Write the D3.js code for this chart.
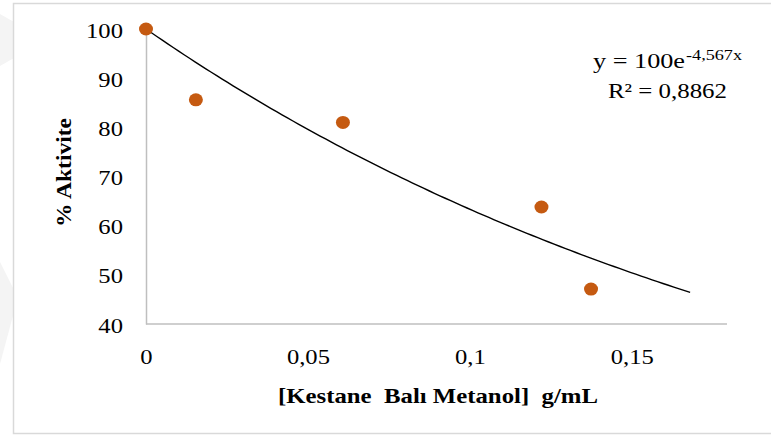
<!DOCTYPE html>
<html>
<head>
<meta charset="utf-8">
<script src="https://cdn.jsdelivr.net/npm/d3@7"></script>
<style>
  html, body { margin: 0; padding: 0; background: #fff; }
  svg { display: block; }
  text { font-family: "Liberation Serif", "Times New Roman", serif; fill: #000; white-space: pre; }
</style>
</head>
<body>
<svg id="chart" width="771" height="436"></svg>
<script>
// Measured activity vs. chestnut honey methanol extract concentration
const concentrations = [0, 0.0154, 0.0608, 0.1221, 0.1374];   // g/mL
const activities     = [100, 85.6, 81.0, 63.8, 47.1];          // % Aktivite

// Exponential trendline y = a·e^(b·x)
const trendA = 100;
const trendB = -4.567;
const trendR2 = 0.8862;
const trendXEnd = 0.168;

const xTicks = [0, 0.05, 0.1, 0.15];
const yTicks = [40, 50, 60, 70, 80, 90, 100];

const xTitle = "[Kestane  Balı Metanol]  g/mL";
const yTitle = "% Aktivite";

const svg = d3.select("#chart");
const fmt = v => String(v).replace(".", ",");
const stretch = 1.12;

// faint background marks to the left of the chart frame
svg.append("path")
  .attr("d", "M0,14 L14,22 L14,58 L0,66 Z")
  .attr("fill", "#f4f4f4");
svg.append("path")
  .attr("d", "M0,262 L14,290 L14,312 L0,364 Z")
  .attr("fill", "#f4f4f4");

// chart frame
svg.append("rect")
  .attr("x", 13.5).attr("y", 3.5)
  .attr("width", 800).attr("height", 430)
  .attr("fill", "#fff")
  .attr("stroke", "#d9d9d9").attr("stroke-width", 1.5);

const x = d3.scaleLinear().domain([0, 0.18]).range([146, 729]);
const y = d3.scaleLinear().domain([40, 100]).range([324, 29]);

// y axis
const yAxis = svg.append("g")
  .attr("transform", `translate(${x(0)},0)`)
  .call(d3.axisLeft(y).tickValues(yTicks).tickFormat(fmt).tickSize(0).tickSizeOuter(0));
yAxis.select(".domain").attr("stroke", "#bfbfbf").attr("stroke-width", 1.5);
yAxis.selectAll(".tick text")
  .attr("x", 0)
  .attr("transform", `translate(-23,1) scale(${stretch},1)`)
  .style("font-size", "22px")
  .style("font-family", '"Liberation Serif", "Times New Roman", serif');

// x axis
const xAxis = svg.append("g")
  .attr("transform", `translate(0,${y(40)})`)
  .call(d3.axisBottom(x).tickValues(xTicks).tickFormat(fmt).tickSize(0).tickSizeOuter(0));
xAxis.select(".domain").attr("stroke", "#bfbfbf").attr("stroke-width", 1.5)
  .attr("d", `M${x(0)},0H727`);
xAxis.selectAll(".tick text")
  .attr("y", 0).attr("dy", null)
  .attr("transform", `translate(0,40) scale(${stretch},1)`)
  .style("font-size", "22px")
  .style("font-family", '"Liberation Serif", "Times New Roman", serif');

// trendline
const trendPts = d3.range(0, 101).map(i => {
  const xv = trendXEnd * i / 100;
  return [xv, trendA * Math.exp(trendB * xv)];
});
svg.append("path")
  .datum(trendPts)
  .attr("fill", "none")
  .attr("stroke", "#000")
  .attr("stroke-width", 1.4)
  .attr("d", d3.line().x(d => x(d[0])).y(d => y(d[1])));

// data points
svg.append("g").selectAll("ellipse")
  .data(concentrations.map((c, i) => [c, activities[i]]))
  .join("ellipse")
  .attr("cx", d => x(d[0]))
  .attr("cy", d => y(d[1]))
  .attr("rx", 7).attr("ry", 6.5)
  .attr("fill", "#c55a11");

// trendline equation and R²
svg.append("text")
  .attr("x", 593).attr("y", 68)
  .attr("textLength", 92).attr("lengthAdjust", "spacingAndGlyphs")
  .style("font-size", "22px")
  .text(`y = ${trendA}e`);
svg.append("text")
  .attr("x", 686).attr("y", 60)
  .attr("textLength", 56).attr("lengthAdjust", "spacingAndGlyphs")
  .style("font-size", "15px")
  .text(`${fmt(trendB)}x`);
svg.append("text")
  .attr("x", 608).attr("y", 97.5)
  .attr("textLength", 119).attr("lengthAdjust", "spacingAndGlyphs")
  .style("font-size", "22px")
  .text(`R² = ${fmt(trendR2)}`);

// axis titles
svg.append("text")
  .attr("x", 278).attr("y", 403)
  .attr("textLength", 320).attr("lengthAdjust", "spacingAndGlyphs")
  .style("font-size", "22px").style("font-weight", "bold")
  .text(xTitle);
svg.append("text")
  .attr("transform", "translate(71,227) rotate(-90)")
  .attr("textLength", 109).attr("lengthAdjust", "spacingAndGlyphs")
  .style("font-size", "21px").style("font-weight", "bold")
  .text(yTitle);
</script>
</body>
</html>
